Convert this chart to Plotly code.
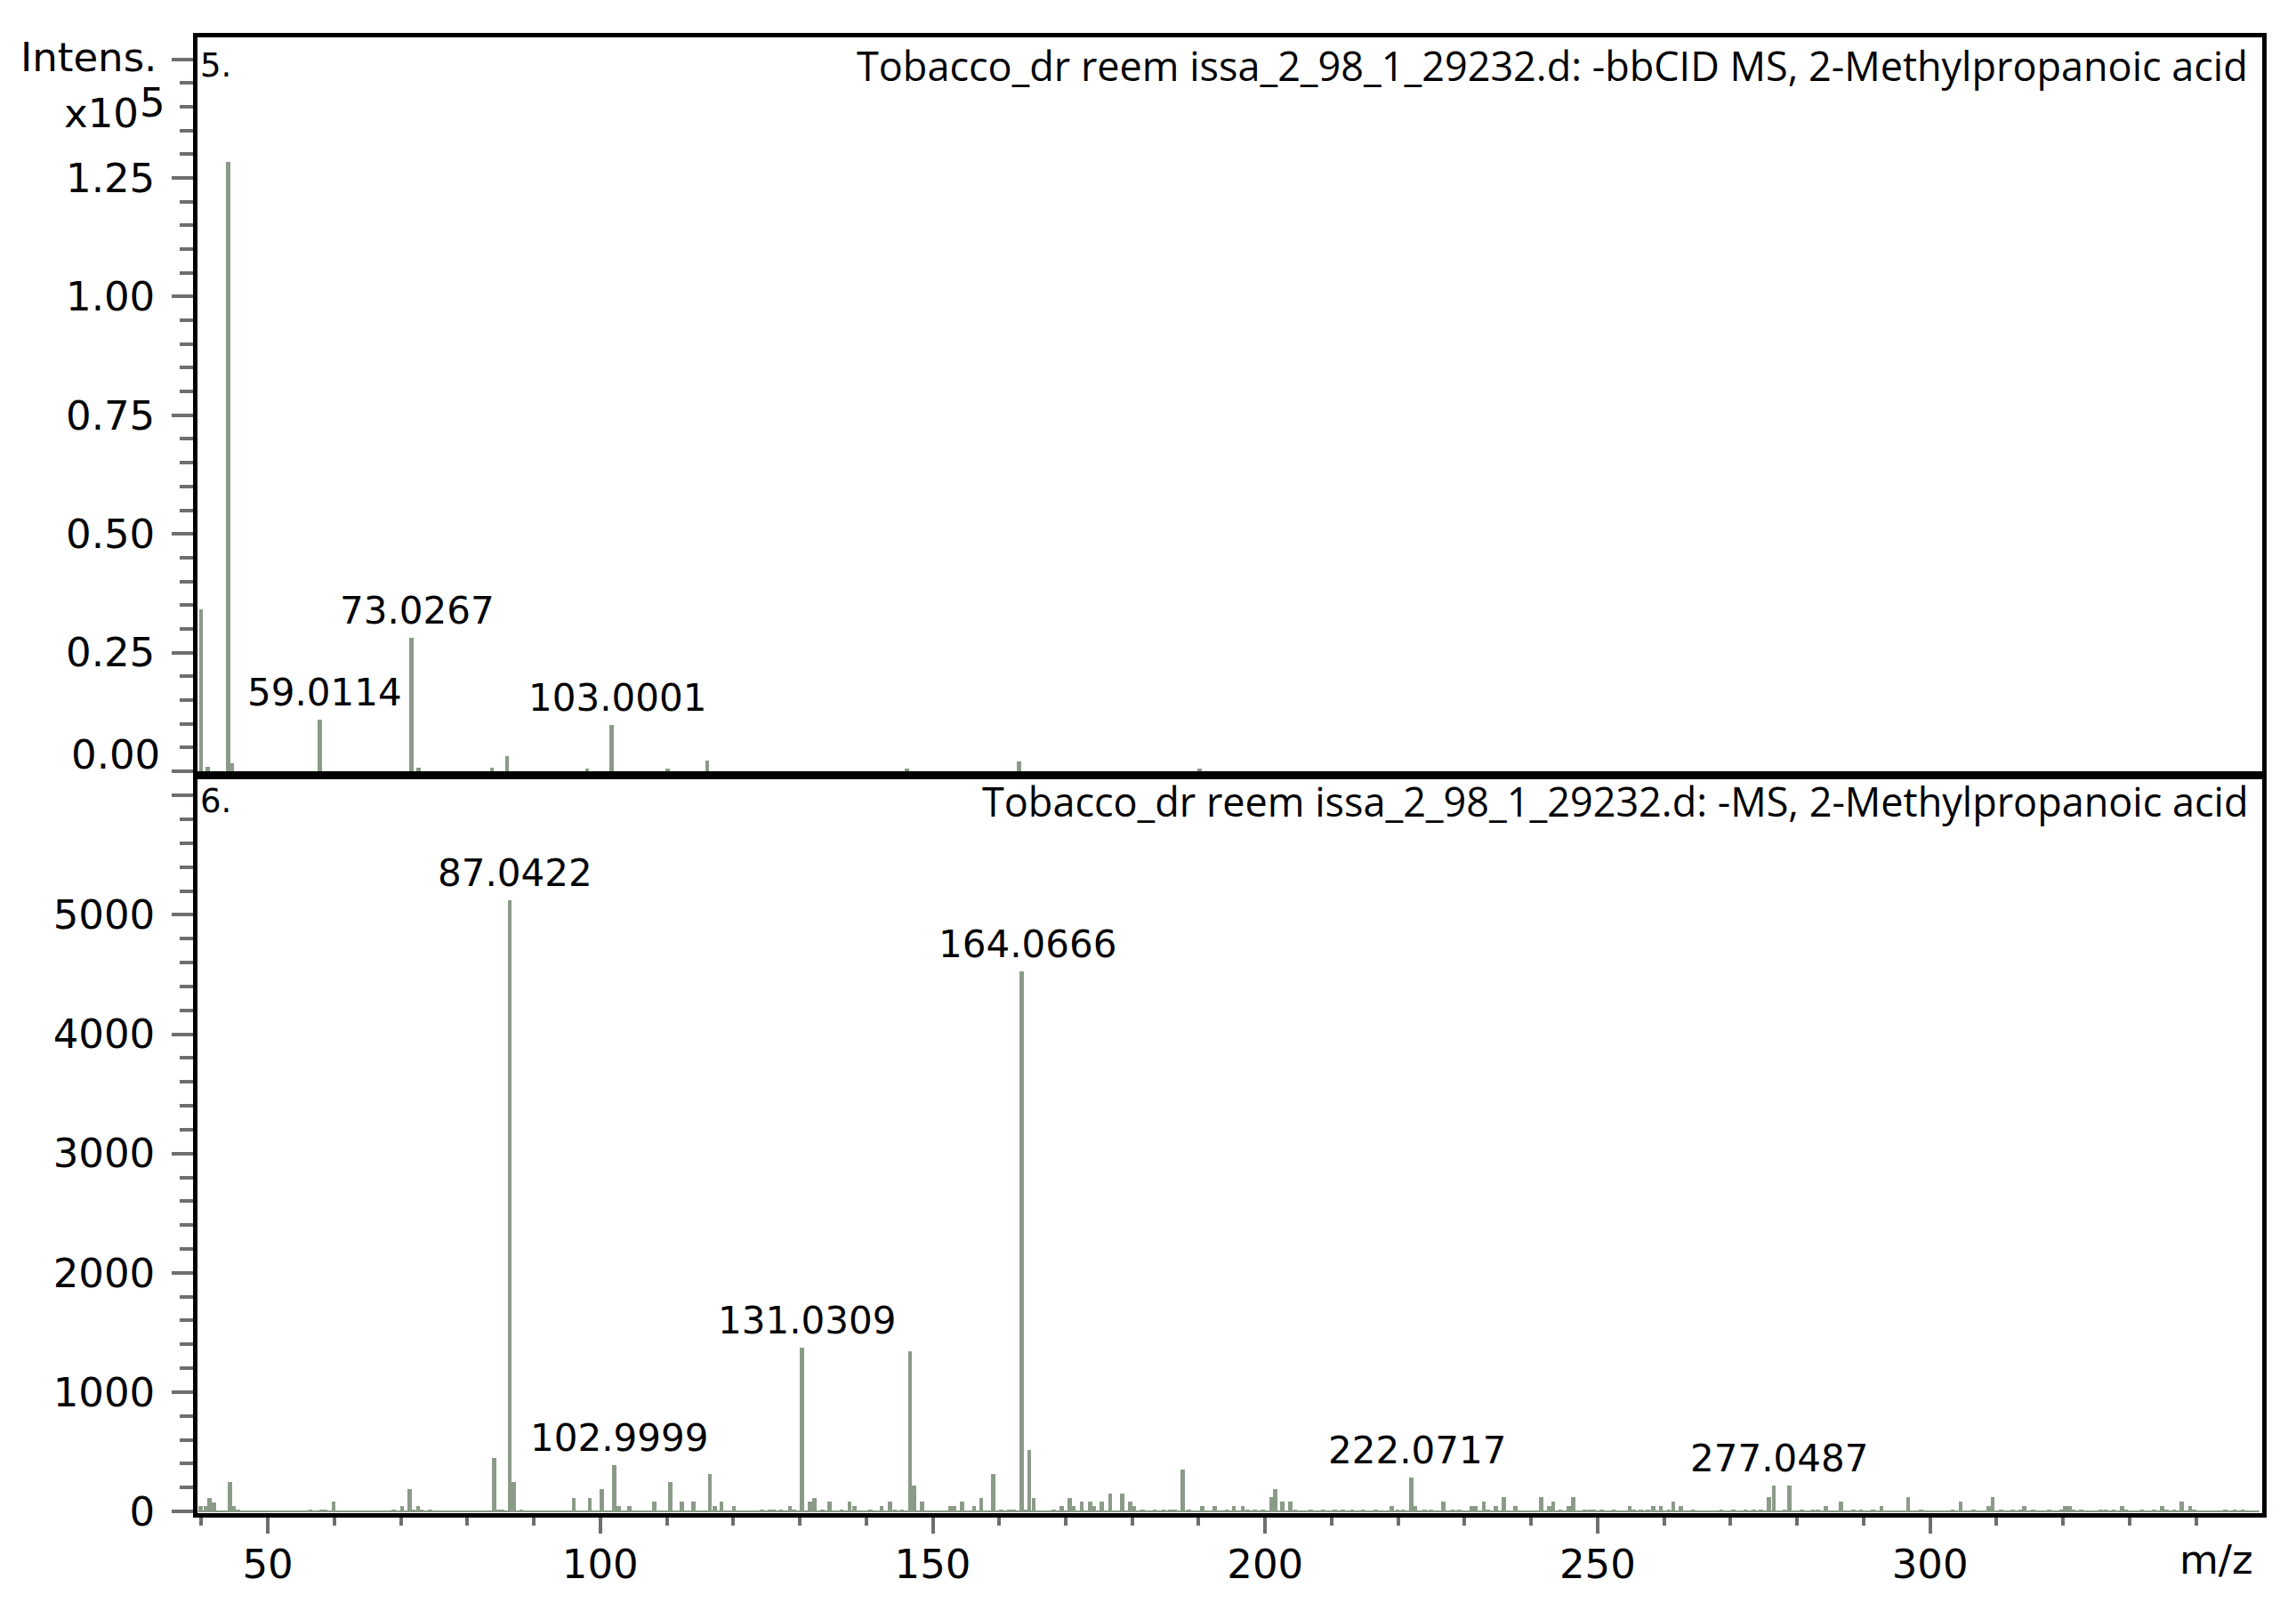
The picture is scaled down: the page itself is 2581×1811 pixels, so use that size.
import plotly.graph_objects as go

# ---------------- data ----------------
# Panel 5: -bbCID MS (intensity in units of 1e5)
top_mz = [39.95, 41.0, 44.0, 44.6, 57.8, 71.6, 72.7, 83.7, 86.0, 98.0, 101.7, 110.1,
          116.1, 146.1, 163.0, 190.1]
top_int = [0.341, 0.009, 1.284, 0.017, 0.109, 0.281, 0.007, 0.007, 0.031, 0.006, 0.098,
           0.006, 0.022, 0.005, 0.021, 0.005]
top_label_mz = [57.8, 71.6, 101.7]
top_label_int = [0.109, 0.281, 0.098]
top_label_text = ["59.0114", "73.0267", "103.0001"]

# Panel 6: -MS (absolute intensity)
bot_mz = [39.9, 40.6, 41.2, 41.9, 44.3, 44.9, 45.5, 56.4, 58.1, 58.7, 59.9, 68.9, 70.2,
          71.3, 71.9, 72.6, 73.1, 74.4, 84.0, 84.7, 85.3, 86.4, 87.0, 88.1, 96.0, 98.4,
          100.2, 102.1, 102.8, 104.4, 108.1, 110.5, 112.3, 114.0, 116.5, 117.2, 118.2,
          120.1, 124.3, 125.5, 126.1, 127.2, 128.5, 129.1, 130.3, 131.5, 132.2, 133.4,
          134.5, 136.3, 137.5, 138.2, 140.6, 142.3, 143.6, 144.3, 145.4, 146.6, 147.2,
          148.4, 152.7, 153.3, 154.4, 156.2, 157.3, 159.1, 160.3, 161.5, 162.2, 163.4,
          163.9, 164.5, 165.2, 168.2, 169.4, 170.6, 171.2, 172.4, 173.7, 174.3, 175.4,
          176.7, 178.5, 179.7, 180.3, 181.6, 183.4, 184.7, 185.7, 186.4, 187.6, 188.5,
          190.5, 192.4, 194.2, 195.3, 196.6, 197.4, 198.4, 199.6, 200.9, 201.5, 202.6,
          203.8, 204.5, 206.9, 208.7, 210.5, 211.7, 213.1, 214.7, 216.6, 219.0, 219.9,
          220.7, 222.0, 222.6, 224.0, 225.0, 226.8, 228.2, 229.2, 231.0, 231.6, 232.9,
          233.5, 234.7, 235.9, 237.6, 241.5, 242.7, 243.3, 244.4, 245.7, 246.3, 248.1,
          248.8, 249.4, 250.6, 252.4, 254.8, 255.4, 256.5, 257.6, 258.4, 259.5, 260.7,
          261.4, 262.5, 264.3, 268.6, 270.4, 272.2, 273.5, 274.6, 275.8, 276.5, 278.1,
          278.8, 280.7, 282.4, 283.1, 284.3, 286.6, 288.5, 289.6, 291.4, 292.7, 296.7,
          298.6, 303.4, 304.6, 306.5, 308.8, 309.4, 310.7, 312.4, 313.6, 314.2, 315.5,
          317.9, 319.7, 320.3, 321.0, 321.6, 322.7, 325.7, 326.4, 327.6, 328.9, 329.5,
          331.9, 333.7, 334.9, 335.6, 336.7, 337.8, 339.1, 339.7, 344.4, 345.8, 347.0]
bot_int = [48, 48, 115, 78, 246, 48, 15, 15, 15, 15, 83, 15, 48,
           186, 15, 48, 15, 15, 450, 15, 15, 5120, 246, 15, 115, 115,
           186, 390, 48, 48, 83, 246, 83, 83, 314, 48, 83,
           48, 15, 15, 15, 15, 48, 15, 1370, 83, 115, 15,
           83, 15, 83, 48, 15, 48, 83, 15, 15, 1340, 216,
           83, 48, 48, 83, 48, 115, 314, 15, 15, 15, 4525,
           15, 516, 115, 15, 48, 115, 48, 83, 83, 48, 83,
           148, 148, 83, 48, 12, 12, 12, 12, 12, 350, 12,
           47, 47, 12, 47, 47, 12, 12, 12, 117, 184, 82,
           82, 12, 12, 12, 12, 12, 12, 12, 12, 47, 12,
           12, 283, 47, 12, 12, 82, 12, 12, 47, 47, 82,
           12, 47, 117, 47, 117, 47, 82, 12, 47, 117, 12,
           12, 12, 12, 12, 47, 12, 12, 12, 47, 47, 12,
           82, 47, 12, 12, 12, 12, 12, 12, 117, 214, 12,
           214, 12, 12, 12, 47, 82, 12, 12, 12, 47, 117,
           12, 12, 82, 12, 47, 117, 12, 12, 12, 47, 12,
           12, 12, 47, 47, 12, 12, 12, 12, 12, 47, 12,
           12, 12, 47, 12, 12, 82, 47, 12, 12, 12, 12]
bot_label_mz = [86.4, 102.1, 130.3, 163.4, 222.0, 276.5]
bot_label_int = [5120, 390, 1370, 4525, 283, 214]
bot_label_text = ["87.0422", "102.9999", "131.0309", "164.0666", "222.0717", "277.0487"]
baseline_mz = [39.5, 349.5]
baseline_int = [0, 0]

top_ticks = [0, 0.25, 0.5, 0.75, 1.0, 1.25, 1.5]
top_ticktext = ["", "0.25", "0.50", "0.75", "1.00", "1.25", ""]
top_zero_label = "0.00"
bot_ticks = [0, 1000, 2000, 3000, 4000, 5000, 6000]
bot_ticktext = ["0", "1000", "2000", "3000", "4000", "5000", ""]

title_top = "Tobacco_dr reem issa_2_98_1_29232.d: -bbCID MS, 2-Methylpropanoic acid"
title_bot = "Tobacco_dr reem issa_2_98_1_29232.d: -MS, 2-Methylpropanoic acid"

# ---------------- styling ----------------
BODY = 8                      # default page body margin of the html page
W, H = 2581 - 2 * BODY, 1811 - 2 * BODY
ML, MT = 222 - BODY, 42 - BODY
MR, MB = 2581 - 2543 - BODY, 1811 - 1701 - BODY
plot_h = H - MT - MB
panel_h = 825
gap = plot_h - 2 * panel_h
BAR = "#8a9b87"
TICKC = "#6e6e6e"
TICKFONT = dict(family="DejaVu Sans", size=45, color="black")
LBLFONT = dict(family="DejaVu Sans", size=42, color="black")
TITLEFONT = dict(family="Open Sans", size=45, color="black")
LW = 4.5

fig = go.Figure()
fig.add_trace(go.Bar(x=bot_mz, y=bot_int, width=0.62, marker=dict(color=BAR, line=dict(width=0)),
                     xaxis="x", yaxis="y", showlegend=False))
fig.add_trace(go.Scatter(x=baseline_mz, y=baseline_int, mode="lines", line=dict(color=BAR, width=2),
                         xaxis="x", yaxis="y", showlegend=False))
fig.add_trace(go.Bar(x=top_mz, y=top_int, width=0.62, marker=dict(color=BAR, line=dict(width=0)),
                     xaxis="x2", yaxis="y2", showlegend=False))

xr = [39.42, 349.95]
fig.update_layout(
    width=W, height=H,
    margin=dict(l=ML, r=MR, t=MT, b=MB, pad=0),
    paper_bgcolor="white", plot_bgcolor="white",
    bargap=0,
    xaxis=dict(domain=[0, 1], range=xr, anchor="y",
               showline=True, linecolor="black", linewidth=LW, mirror=True,
               showgrid=False, zeroline=False,
               ticks="outside", tickcolor=TICKC, ticklen=18, tickwidth=4,
               tick0=0, dtick=50, tickfont=TICKFONT, ticklabelstandoff=-4,
               minor=dict(ticks="outside", dtick=10, tick0=0, ticklen=9, tickwidth=4,
                          tickcolor=TICKC, showgrid=False)),
    yaxis=dict(domain=[0, panel_h / plot_h], range=[-15, 6137], anchor="x",
               showline=True, linecolor="black", linewidth=LW, mirror=True,
               showgrid=False, zeroline=False,
               ticks="outside", tickcolor=TICKC, ticklen=24, tickwidth=4,
               tickmode="array", tickvals=bot_ticks, ticktext=bot_ticktext,
               tickfont=TICKFONT, ticklabelstandoff=10,
               minor=dict(ticks="outside", tickmode="linear", dtick=200, tick0=0, ticklen=15,
                          tickwidth=4, tickcolor=TICKC, showgrid=False)),
    xaxis2=dict(domain=[0, 1], range=xr, anchor="y2", matches="x",
                showline=True, linecolor="black", linewidth=LW, mirror=True,
                showgrid=False, zeroline=False, ticks="", showticklabels=False),
    yaxis2=dict(domain=[(panel_h + gap) / plot_h, 1], range=[0, 1.546], anchor="x2",
                showline=True, linecolor="black", linewidth=LW, mirror=True,
                showgrid=False, zeroline=False,
                ticks="outside", tickcolor=TICKC, ticklen=24, tickwidth=4,
                tickmode="array", tickvals=top_ticks, ticktext=top_ticktext,
                tickfont=TICKFONT, ticklabelstandoff=10,
                minor=dict(ticks="outside", tickmode="linear", dtick=0.05, tick0=0, ticklen=15,
                           tickwidth=4, tickcolor=TICKC, showgrid=False)),
)

ann = []
for x, y, t in zip(top_label_mz, top_label_int, top_label_text):
    ann.append(dict(x=x, y=y, xref="x2", yref="y2", text=t, showarrow=False,
                    xanchor="center", yanchor="bottom", xshift=6, yshift=4, font=LBLFONT))
for x, y, t in zip(bot_label_mz, bot_label_int, bot_label_text):
    ann.append(dict(x=x, y=y, xref="x", yref="y", text=t, showarrow=False,
                    xanchor="center", yanchor="bottom", xshift=6, yshift=4, font=LBLFONT))

# raised "0.00" label of the upper panel
ann.append(dict(x=0, y=0, xref="paper", yref="y2", text=top_zero_label, showarrow=False,
                xanchor="right", yanchor="middle", xshift=-40, yshift=19, font=TICKFONT))

# panel numbers and titles
PNFONT = dict(family="DejaVu Sans", size=37, color="black")
ann.append(dict(x=0, y=1, xref="x2 domain", yref="y2 domain", text="5.", showarrow=False,
                xanchor="left", yanchor="middle", xshift=1, yshift=-31, font=PNFONT))
ann.append(dict(x=0, y=1, xref="x domain", yref="y domain", text="6.", showarrow=False,
                xanchor="left", yanchor="middle", xshift=1, yshift=-25, font=PNFONT))
ann.append(dict(x=1, y=1, xref="x2 domain", yref="y2 domain", text=title_top, showarrow=False,
                xanchor="right", yanchor="middle", xshift=-14, yshift=-31, font=TITLEFONT))
ann.append(dict(x=1, y=1, xref="x domain", yref="y domain", text=title_bot, showarrow=False,
                xanchor="right", yanchor="middle", xshift=-14, yshift=-25, font=TITLEFONT))

# axis titles
ann.append(dict(x=0, y=1, xref="paper", yref="paper", text="Intens.", showarrow=False,
                xanchor="right", yanchor="middle", xshift=-44, yshift=-22, font=TICKFONT))
ann.append(dict(x=0, y=1, xref="paper", yref="paper", text="x10", showarrow=False,
                xanchor="right", yanchor="middle", xshift=-64, yshift=-85, font=TICKFONT))
ann.append(dict(x=0, y=1, xref="paper", yref="paper", text="5", showarrow=False,
                xanchor="left", yanchor="middle", xshift=-67, yshift=-73, font=TICKFONT))
ann.append(dict(x=1, y=0, xref="paper", yref="paper", text="m/z", showarrow=False,
                xanchor="right", yanchor="middle", xshift=-8, yshift=-52, font=TICKFONT))

fig.update_layout(annotations=ann)
fig.write_html("out.html")
